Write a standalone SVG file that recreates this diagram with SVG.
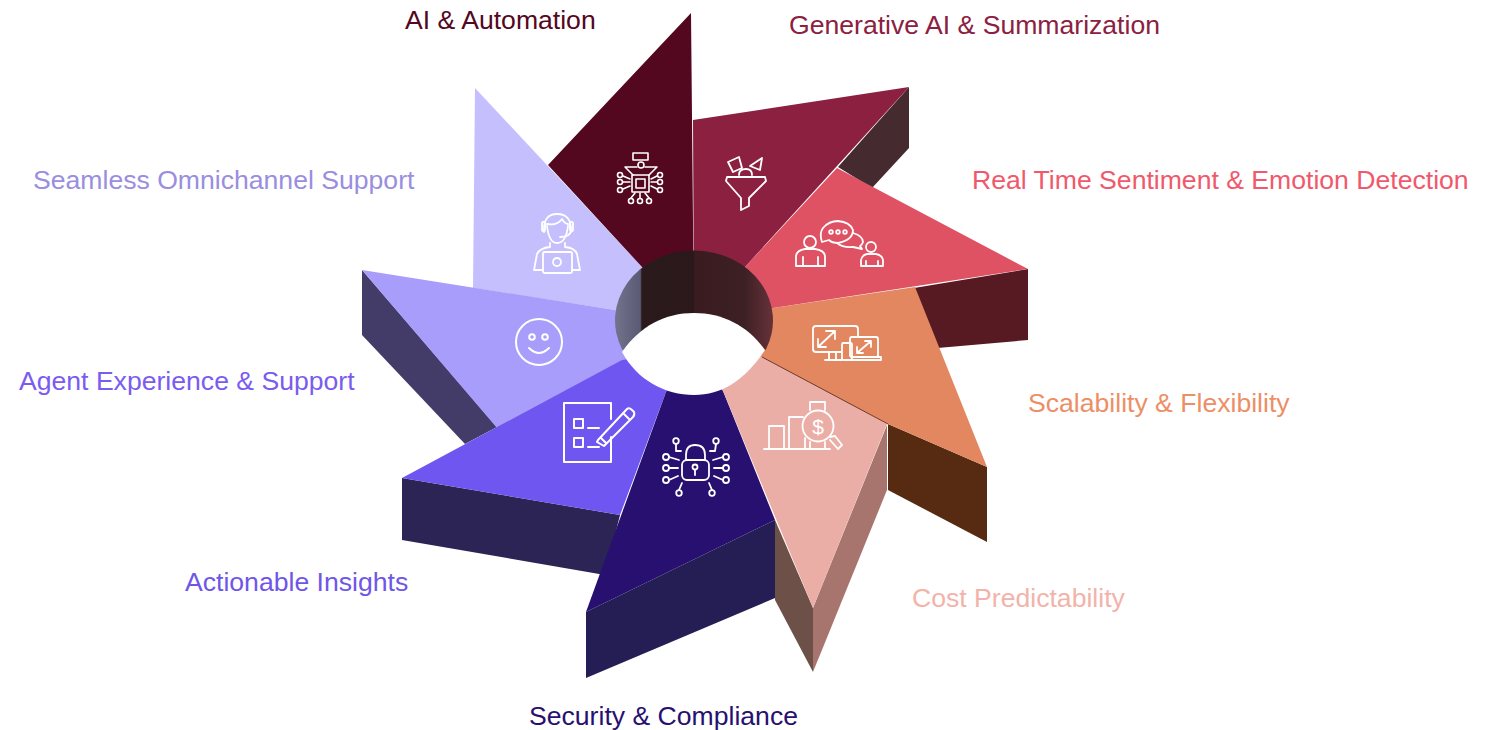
<svg xmlns="http://www.w3.org/2000/svg" width="1491" height="730" viewBox="0 0 1491 730">
<defs>
<linearGradient id="wall" x1="615" x2="773" y1="0" y2="0" gradientUnits="userSpaceOnUse">
<stop offset="0" stop-color="#73738d"/><stop offset="0.16" stop-color="#5a5a74"/><stop offset="0.17" stop-color="#2b1a1c"/><stop offset="0.5" stop-color="#2a181a"/><stop offset="0.505" stop-color="#3a1c20"/><stop offset="0.82" stop-color="#3d2024"/><stop offset="1" stop-color="#66323a"/>
</linearGradient>
</defs>
<style>
text{font-family:"Liberation Sans",Arial,sans-serif;font-size:26.6px}
.i{fill:none;stroke:#fff;stroke-width:1.8;stroke-linecap:round;stroke-linejoin:round}
</style>
<rect width="1491" height="730" fill="#fff"/>
<g id="sides">
<polygon points="909,87 909,148 872,188 838,167" fill="#452a30"/>
<polygon points="1028,269 1028,340 926,349 914,288" fill="#571a22"/>
<polygon points="888,424 987,467 987,542 888,490" fill="#562b12"/>
<polygon points="887,425 887,490 813,672 813,608" fill="#a8756e"/>
<polygon points="775,520 813,608 813,672 775,600" fill="#6d5048"/>
<polygon points="586,612 775,520 775,598 586,678" fill="#241e55"/>
<polygon points="402,478 620,515 605,575 402,540" fill="#2b2454"/>
<polygon points="362,270 497,427 465,444 362,335" fill="#443c68"/>
</g>
<g id="node-omnichannel">
<polygon points="475,88 642,267 694,325 615,310 473,288" fill="#c5c0fd"/>
<g class="i">
<path d="M544,232 Q543,214 557,214 Q572,214 571,232"/>
<path d="M547,226 Q549,243 557,243 Q566,243 568,226 M547,224 Q557,226 562,219 Q565,224 568,224"/>
<rect x="542" y="222" width="3" height="9" rx="1"/><rect x="570" y="222" width="3" height="9" rx="1"/>
<path d="M571,231 Q570,237 560,237"/>
<path d="M550,243 L550,247 Q540,248 537,254 L534,270 L543,270 M565,243 L565,247 Q575,248 577,254 L580,270 L572,270"/>
<rect x="543" y="252" width="29" height="21" rx="1.500"/>
<circle cx="557" cy="262" r="4"/>
</g>
</g>
<g id="node-agent">
<polygon points="362,270 615,310 694,340 622,361 497,428" fill="#a99dfb"/>
<g class="i" style="stroke-width:2">
<circle cx="539" cy="342" r="23"/><circle cx="532" cy="337" r="2.800"/><circle cx="545" cy="337" r="2.800"/>
<path d="M529,348 Q539,358 549,348"/>
</g>
</g>
<g id="node-insights">
<polygon points="402,478 622,360 694,350 666,392 620,515" fill="#6f56f0"/>
<g class="i" style="stroke-width:2">
<path d="M611,419 L611,403 L564,403 L564,462 L611,462 L611,437"/>
<rect x="574" y="419" width="9" height="9"/><rect x="574" y="438" width="9" height="9"/>
<path d="M588,428 L599,428 M588,447 L599,447"/>
<path d="M598,440 L627,409 Q629,407 632,410 L634,412 Q635,415 633,417 L604,446 L597,442 Z M623,413 L630,420 M601,438 L606,443"/>
</g>
</g>
<g id="node-security">
<polygon points="666,392 694,350 723,391 775,520 586,612" fill="#271070"/>
<g class="i">
<rect x="682" y="460" width="27" height="20" rx="5"/>
<path d="M686,460 L686,455 Q686,445 695,445 Q705,445 705,455 L705,460"/>
<circle cx="695" cy="467" r="2.500"/><path d="M695,470 L695,475"/>
<circle cx="676" cy="441" r="2.800"/><path d="M676,444 L676,451 L681,451"/>
<circle cx="716" cy="441" r="2.800"/><path d="M716,444 L715,451 L710,451"/>
<circle cx="666" cy="457" r="3"/><path d="M669,457 L679,460"/>
<circle cx="666" cy="468" r="3"/><path d="M669,468 L678,468"/>
<circle cx="666" cy="480" r="3"/><path d="M669,480 L678,476"/>
<circle cx="726" cy="457" r="3"/><path d="M723,457 L713,460"/>
<circle cx="726" cy="468" r="3"/><path d="M723,468 L714,468"/>
<circle cx="726" cy="480" r="3"/><path d="M723,480 L714,476"/>
<circle cx="679" cy="493" r="2.800"/><path d="M679,490 L682,483"/>
<circle cx="712" cy="493" r="2.800"/><path d="M712,490 L709,483"/>
</g>
</g>
<g id="node-cost">
<polygon points="723,391 694,350 762,352 887,424 813,608" fill="#ebaea6"/>
<g class="i">
<path d="M764,449 L830,449"/>
<rect x="769" y="426" width="15" height="23"/>
<path d="M789,449 L789,417 L803,417"/>
<path d="M805,449 L805,438 M810,449 L810,442 M825,449 L825,442"/>
<path d="M810,410 L810,402 L825,402 L825,410"/>
<circle cx="818" cy="426" r="15.500"/>
<path d="M830,437 L835,436 L842,445 L838,449 L830,440"/>
</g>
<text x="818" y="434" text-anchor="middle" fill="#fff" style="font-size:21px">$</text>
</g>
<g id="node-scalability">
<polygon points="915,287 987,467 888,424 762,357 694,325 773,308" fill="#e38760"/>
<line x1="762" y1="357" x2="888" y2="424" stroke="#6b3a28" stroke-width="1"/>
<g class="i">
<path d="M841,352 L816,352 Q813,352 813,349 L813,329 Q813,326 816,326 L855,326 Q858,326 858,329 L858,337"/>
<path d="M829,352 L829,360 M836,352 L836,360 M825,360 L842,360"/>
<path d="M818,347 L835,331 M826,331 L835,331 L835,339 M818,339 L818,347 L826,347"/>
<rect x="850" y="337" width="28" height="20" rx="2"/><path d="M845,360 L881,360 L881,357 L852,357"/>
<rect x="842" y="343" width="10" height="17" rx="1.500"/>
<path d="M857,353 L871,341 M865,341 L871,341 L871,347 M857,347 L857,353 L863,353"/>
</g>
</g>
<g id="node-sentiment">
<polygon points="837,168 1028,269 773,308 694,325 745,267" fill="#df5263"/>
<g class="i">
<circle cx="810" cy="242" r="6"/><path d="M796,266 L796,256 Q797,250 805,249 L815,249 Q824,250 825,256 L825,266 Z M803,257 L803,266 M818,257 L818,266"/>
<circle cx="871" cy="247" r="5"/><path d="M861,266 L861,260 Q862,255 867,254 L876,254 Q882,255 883,260 L883,266 Z M866,261 L866,266 M878,261 L878,266"/>
<path d="M822,242 Q819,233 823,228 Q829,221 838,221 Q850,222 853,230 Q853,240 838,243 Q832,243 829,240 Z"/>
<path d="M853,233 Q863,236 863,242 Q862,245 860,246 L862,249 L853,247 Q843,248 837,243"/>
<circle cx="831" cy="232" r="1.800"/><circle cx="838" cy="232" r="1.800"/><circle cx="845" cy="232" r="1.800"/>
</g>
</g>
<g id="node-generative">
<polygon points="693,120 909,87 745,267 694,325" fill="#8c2040"/>
<g class="i">
<polygon points="728,162 739,157 742,168 733,172"/>
<polygon points="762,158 760,170 750,166"/>
<path d="M739,175 Q739,169 746,169 Q752,169 752,175"/>
<path d="M727,177 L765,177 L766,181 L749,198 L749,206 L741,210 L741,198 L726,181 Z"/>
</g>
</g>
<g id="node-automation">
<polygon points="691,13 548,165 642,267 694,325" fill="#53081f"/>
<g class="i" style="stroke-width:1.600">
<rect x="632" y="175" width="17" height="17"/><rect x="636" y="179" width="9" height="9"/>
<rect x="633" y="153" width="15" height="7"/><circle cx="641" cy="165" r="3"/>
<path d="M625,167 L637,167 M657,167 L645,167 M625,167 L633,175 M657,167 L649,175"/>
<circle cx="620" cy="175" r="2.500"/><circle cx="620" cy="182" r="2.500"/><circle cx="620" cy="190" r="2.500"/>
<circle cx="660" cy="175" r="2.500"/><circle cx="660" cy="182" r="2.500"/><circle cx="660" cy="190" r="2.500"/>
<circle cx="631" cy="201" r="2.500"/><circle cx="640" cy="201" r="2.500"/><circle cx="649" cy="201" r="2.500"/>
<path d="M623,176 L630,179 M623,182 L630,182 M623,189 L630,186 M657,176 L651,179 M657,182 L651,182 M657,189 L651,186 M631,198 L635,193 M640,198 L640,193 M649,198 L645,193"/>
</g>
</g>
<g id="wall-group">
<path d="M622.2,349.7 A79,70 0 1 1 765.8,349.7 Z" fill="url(#wall)"/>
</g>
<g id="hole">
<path d="M622,352 C640,326 665,313 694,313 C723,313 748,326 765,350 C745,380 722,395 694,395 C665,395 637,380 622,352 Z" fill="#fff"/>
</g>
<g id="labels">
<text x="405" y="29" fill="#53081f">AI &amp; Automation</text>
<text x="789" y="34" fill="#8c2040">Generative AI &amp; Summarization</text>
<text x="972" y="189" fill="#f0596c">Real Time Sentiment &amp; Emotion Detection</text>
<text x="1028" y="412" fill="#ec8f66">Scalability &amp; Flexibility</text>
<text x="912" y="607" fill="#f2b3aa">Cost Predictability</text>
<text x="529" y="725" fill="#271070">Security &amp; Compliance</text>
<text x="185" y="591" fill="#6f56e8">Actionable Insights</text>
<text x="19" y="390" fill="#7a5cf0">Agent Experience &amp; Support</text>
<text x="33" y="189" fill="#9a8ee0">Seamless Omnichannel Support</text>
</g>
</svg>
